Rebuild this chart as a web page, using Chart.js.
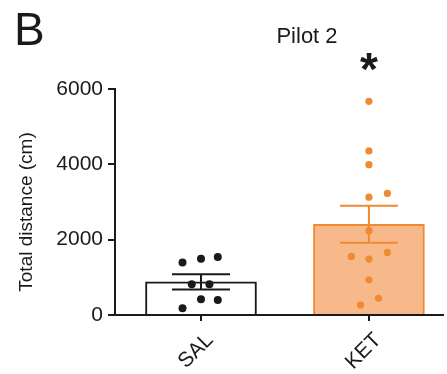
<!DOCTYPE html>
<html>
<head>
<meta charset="utf-8">
<script src="https://cdn.jsdelivr.net/npm/chart.js@4"></script>
<style>
    html, body { margin: 0; padding: 0; background: #fff; overflow: hidden; }
    #wrap { width: 447px; height: 374px; }
</style>
</head>
<body>
<div id="wrap"><canvas id="myChart" width="447" height="374"></canvas></div>
<script>
var categories = ['SAL', 'KET'];
var means = [880, 2410];
var sems = [200, 490];
var salValues = [1395, 1493, 1538, 819, 819, 419, 400, 179];
var salJitter = [-0.11, 0, 0.10, -0.055, 0.05, 0, 0.10, -0.11];
var ketValues = [5672, 4355, 3992, 3128, 3227, 2240, 1555, 1485, 1661, 933, 445, 267];
var ketJitter = [0, 0, 0, 0, 0.11, 0, -0.105, 0, 0.11, 0, 0.057, -0.05];
var yTicks = [0, 2000, 4000, 6000];

var black = '#1a1a1a';
var orange = '#f08a32';
var orangeFill = '#f7b98a';
var fontName = '"Liberation Sans", Arial, Helvetica, sans-serif';

function points(values, jitter, idx) {
    return values.map(function (v, i) { return { x: idx + jitter[i], y: v }; });
}

// error bars, panel letter, title, star, y title
var extras = {
    id: 'extras',
    afterDatasetsDraw: function (chart) {
        var ctx = chart.ctx;
        var xs = chart.scales.x, ys = chart.scales.y;
        var colors = [black, orange];
        ctx.save();
        ctx.lineWidth = 2;
        means.forEach(function (m, i) {
            var px = xs.getPixelForValue(i);
            var top = ys.getPixelForValue(m + sems[i]);
            var bot = ys.getPixelForValue(m - sems[i]);
            ctx.strokeStyle = colors[i];
            ctx.beginPath();
            ctx.moveTo(px, top); ctx.lineTo(px, bot);
            ctx.moveTo(px - 29, top); ctx.lineTo(px + 29, top);
            ctx.moveTo(px - 29, bot); ctx.lineTo(px + 29, bot);
            ctx.stroke();
        });

        ctx.fillStyle = black;
        ctx.textBaseline = 'alphabetic';
        ctx.textAlign = 'left';
        ctx.font = '46px ' + fontName;
        ctx.fillText('B', 14, 45);

        ctx.textAlign = 'center';
        ctx.font = '22px ' + fontName;
        ctx.fillText('Pilot 2', 307, 43);

        ctx.font = 'bold 46px ' + fontName;
        ctx.fillText('*', xs.getPixelForValue(1), 85);

        ctx.translate(27, 212);
        ctx.rotate(-Math.PI / 2);
        ctx.textBaseline = 'middle';
        ctx.font = '19px ' + fontName;
        ctx.fillText('Total distance (cm)', 0, 0);
        ctx.restore();
    }
};

var ctx = document.getElementById('myChart').getContext('2d');
var myChart = new Chart(ctx, {
    type: 'bar',
    data: {
        datasets: [{
            type: 'scatter',
            data: points(salValues, salJitter, 0),
            backgroundColor: black,
            borderWidth: 0,
            pointRadius: 4,
            order: 1
        }, {
            type: 'scatter',
            data: points(ketValues, ketJitter, 1),
            backgroundColor: orange,
            borderWidth: 0,
            pointRadius: 3.6,
            order: 1
        }, {
            type: 'bar',
            data: means.map(function (m, i) { return { x: i, y: m }; }),
            backgroundColor: ['#ffffff', orangeFill],
            borderColor: [black, orange],
            borderWidth: 2,
            barThickness: 111,
            order: 3
        }]
    },
    options: {
        responsive: false,
        animation: false,
        devicePixelRatio: 1,
        layout: { padding: { top: 89, left: 0, right: 0, bottom: 0 } },
        plugins: {
            legend: { display: false },
            tooltip: { enabled: false }
        },
        scales: {
            x: {
                type: 'linear',
                offset: false,
                min: -0.512,
                max: 1.441,
                afterBuildTicks: function (scale) {
                    scale.ticks = categories.map(function (c, i) { return { value: i }; });
                },
                afterFit: function (scale) { scale.height = 59; },
                border: { display: true, color: black, width: 2 },
                grid: { offset: false, drawOnChartArea: false, drawTicks: true, tickLength: 6, color: black, lineWidth: 2 },
                ticks: {
                    autoSkip: false,
                    minRotation: 45,
                    maxRotation: 45,
                    padding: 7,
                    labelOffset: 9,
                    color: black,
                    font: { family: fontName, size: 21 },
                    callback: function (v) { return categories[v]; }
                }
            },
            y: {
                min: 0,
                max: 6000,
                afterBuildTicks: function (scale) {
                    scale.ticks = yTicks.map(function (v) { return { value: v }; });
                },
                afterFit: function (scale) { scale.width = 115; },
                border: { display: true, color: black, width: 2 },
                grid: { drawOnChartArea: false, drawTicks: true, tickLength: 7, color: black, lineWidth: 2 },
                ticks: {
                    padding: 5,
                    color: black,
                    font: { family: fontName, size: 21 },
                    callback: function (v) { return String(v); }
                }
            }
        }
    },
    plugins: [extras]
});
</script>
</body>
</html>
